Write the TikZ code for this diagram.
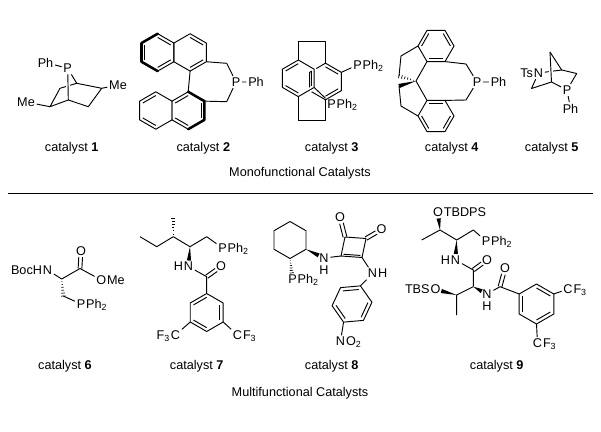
\documentclass[tikz,border=0pt]{standalone}
\usepackage{fontspec}
\setmainfont{Liberation Sans}
\usetikzlibrary{calc,positioning}

\tikzset{
  atom/.style={inner sep=1pt, font=\fontsize{9.5}{10}\selectfont},
  captext/.style={inner sep=1pt, font=\fontsize{9.5}{11}\selectfont},
  thickbond/.style={line width=1.9pt, line cap=round},
}
% ring corners: prefix, centre, start angle, side
\newcommand{\hexat}[4]{\foreach \k in {1,...,6}{\coordinate (#1\k) at ($(#2)+({#3+60*(\k-1)}:#4)$);}}
\newcommand{\ring}[1]{\draw (#11)--(#12)--(#13)--(#14)--(#15)--(#16)--cycle;}
\newcommand{\inb}[3]{\draw ($(#1)!0.2!(#3)$) -- ($(#2)!0.2!(#3)$);}
\newcommand{\dbl}[3]{%
  \draw[shorten >=#3] ($(#1)!1.4pt!90:(#2)$) -- ($(#2)!1.4pt!-90:(#1)$);
  \draw[shorten >=#3] ($(#1)!1.4pt!-90:(#2)$) -- ($(#2)!1.4pt!90:(#1)$);}
\newcommand{\wdg}[2]{\fill (#1) -- ($(#2)!1.6pt!90:(#1)$) -- ($(#2)!1.6pt!-90:(#1)$) -- cycle;}
\newcommand{\hsh}[2]{%
  \coordinate (hwa) at ($(#2)!1.6pt!90:(#1)$);
  \coordinate (hwb) at ($(#2)!1.6pt!-90:(#1)$);
  \foreach \t in {0.15,0.32,0.49,0.66,0.83,1}{\draw[line width=0.5pt] ($(#1)!\t!(hwa)$) -- ($(#1)!\t!(hwb)$);}}

\begin{document}
\begin{tikzpicture}[x=0.75pt, y=-0.75pt, line width=0.7pt, line join=round]
\useasboundingbox (0,0) rectangle (601,432);

% catalyst 1
\node[atom] (p1) at (67.7,68.3) {P};
\node[atom] (ph1) at (45.5,62.5) {Ph};
\node[atom] (me1a) at (118,85) {Me};
\node[atom] (me1b) at (26,102) {Me};
\coordinate (k1) at (76.7,83.3);
\coordinate (k4) at (68.3,100);
\coordinate (k2) at (101.7,88.3);
\coordinate (k3) at (88.3,106.7);
\coordinate (k6) at (60,88.3);
\coordinate (k5) at (50,106.7);
\draw (ph1) -- (p1);
\draw (k6) -- (k1);
\draw[white, line width=3pt] ($(p1)!0.45!(k4)$) -- ($(p1)!0.68!(k4)$);
\draw (p1) -- (k4);
\draw (p1) -- (k1) -- (k2) -- (k3) -- (k4) -- (k5) -- (k6);
\draw (k2) -- (me1a);
\draw (k5) -- (me1b);

% catalyst 2
\coordinate (n2a) at (157.7,52.4);
\coordinate (n2b) at (190.1,52.4);
\coordinate (n2c) at (155.8,110.5);
\coordinate (n2d) at (188.2,110.5);
\hexat{ba}{n2a}{-90}{18.7}
\hexat{bb}{n2b}{-90}{18.7}
\hexat{bc}{n2c}{-90}{18.7}
\hexat{bd}{n2d}{-90}{18.7}
\ring{ba} \ring{bb} \ring{bc} \ring{bd}
\draw[thickbond] (ba1) -- (ba6) -- (ba5) -- (ba4);
\draw[thickbond] (bd1) -- (bd2) -- (bd3) -- (bd4);
\inb{ba5}{ba6}{n2a} \inb{ba1}{ba2}{n2a} \inb{ba3}{ba4}{n2a}
\inb{bb1}{bb2}{n2b} \inb{bb3}{bb4}{n2b}
\inb{bc6}{bc1}{n2c} \inb{bc4}{bc5}{n2c}
\inb{bd6}{bd1}{n2d} \inb{bd2}{bd3}{n2d} \inb{bd4}{bd5}{n2d}
\draw (bb4) -- (bd1);
\coordinate (m2a) at (226.7,63.3);
\coordinate (m2b) at (226.7,101.7);
\node[atom] (p2) at (236,82) {P};
\node[atom] (ph2) at (256,82) {Ph};
\draw (bb3) -- (m2a) -- (p2) -- (ph2);
\draw (bd2) -- (m2b) -- (p2);

% catalyst 3
\coordinate (n3a) at (298.3,78.3);
\coordinate (n3b) at (325.5,81.5);
\hexat{fb}{n3b}{-90}{18.3}
\hexat{fa}{n3a}{-90}{18.3}
\ring{fb}
\inb{fb1}{fb2}{n3b} \inb{fb3}{fb4}{n3b} \inb{fb5}{fb6}{n3b}
\draw[preaction={draw=white, line width=3.5pt}] (fa1)--(fa2)--(fa3)--(fa4)--(fa5)--(fa6)--cycle;
\inb{fa1}{fa6}{n3a} \inb{fa5}{fa4}{n3a} \inb{fa2}{fa3}{n3a}
\coordinate (t3a) at (298.3,41.7);
\coordinate (t3b) at (325.5,41.7);
\coordinate (t3c) at (298.3,120);
\coordinate (t3d) at (325.5,120);
\draw (fa1) -- (t3a) -- (t3b) -- (fb1);
\draw (fa4) -- (t3c) -- (t3d) -- (fb4);
\node[atom] (p3a) at (357.5,65) {P};
\node[atom, base right=-2pt of p3a] (p3ar) {Ph\textsubscript{2}};
\node[atom] (p3b) at (331.5,104) {P};
\node[atom, base right=-2pt of p3b] (p3br) {Ph\textsubscript{2}};
\draw (fb2) -- (p3a);
\draw (fa3) -- (p3b);

% catalyst 4
\coordinate (n4a) at (436,46);
\coordinate (n4b) at (436,116);
\hexat{sa}{n4a}{180}{18}
\hexat{sb}{n4b}{180}{18}
\coordinate (sp4) at (416,81);
\coordinate (m4a) at (401,56);
\coordinate (m4b) at (399,76);
\coordinate (m4c) at (399,86);
\coordinate (m4d) at (401,106);
\coordinate (m4e) at (466,64);
\coordinate (m4f) at (466,100);
\node[atom] (p4) at (477,82) {P};
\node[atom] (ph4) at (498.5,82) {Ph};
\ring{sa} \ring{sb}
\inb{sa1}{sa2}{n4a} \inb{sa3}{sa4}{n4a} \inb{sa5}{sa6}{n4a}
\inb{sb1}{sb6}{n4b} \inb{sb4}{sb5}{n4b} \inb{sb2}{sb3}{n4b}
\draw (sa1) -- (m4a) -- (m4b);
\hsh{sp4}{m4b}
\draw (sa6) -- (sp4) -- (sb2);
\wdg{sp4}{m4c}
\draw (m4c) -- (m4d) -- (sb1);
\draw (sa5) -- (m4e) -- (p4) -- (ph4);
\draw (sb3) -- (m4f) -- (p4);

% catalyst 5
\coordinate (ap5) at (550,52);
\coordinate (bh5a) at (561.7,70);
\coordinate (bh5b) at (551.5,82);
\coordinate (cr5) at (576.7,73.5);
\coordinate (cl5) at (531.5,88.5);
\node[atom] (n5) at (538.5,73) {N};
\node[atom, base left=-2pt of n5] (ts5) {Ts};
\node[atom] (p5) at (567,90) {P};
\node[atom] (ph5) at (570.5,108.5) {Ph};
\draw (bh5a) -- (n5);
\draw[white, line width=3pt] ($(ap5)!0.55!(bh5b)$) -- ($(ap5)!0.76!(bh5b)$);
\draw (ap5) -- (bh5a) -- (cr5) -- (p5) -- (bh5b) -- (cl5) -- (n5);
\draw (ap5) -- (bh5b);
\draw (p5) -- (ph5);

% captions, top row
\node[captext] (cap1) at (71.7,148.3) {catalyst \textbf{1}};
\node[captext] (cap2) at (203.3,148.3) {catalyst \textbf{2}};
\node[captext] (cap3) at (331.7,148.3) {catalyst \textbf{3}};
\node[captext] (cap4) at (451.7,148.3) {catalyst \textbf{4}};
\node[captext] (cap5) at (551.7,148.3) {catalyst \textbf{5}};
\node[captext] (mono) at (300,173.3) {Monofunctional Catalysts};
\coordinate (sepa) at (8,193.5);
\coordinate (sepb) at (593,193.5);
\draw (sepa) -- (sepb);

% catalyst 6
\node[atom] (n6) at (47.5,270) {N};
\node[atom, base left=-2pt of n6] (boc6) {BocH};
\coordinate (ca6) at (61.7,279);
\coordinate (co6) at (80,268.5);
\node[atom] (o6) at (81,251) {O};
\node[atom] (o6b) at (101.3,280) {O};
\node[atom, base right=-2pt of o6b] (me6) {Me};
\coordinate (ch6) at (63.3,296);
\node[atom] (p6) at (81,304) {P};
\node[atom, base right=-2pt of p6] (p6r) {Ph\textsubscript{2}};
\draw (n6) -- (ca6) -- (co6) -- (o6b);
\dbl{co6}{o6}{4.5pt}
\hsh{ca6}{ch6}
\draw (ch6) -- (p6);

% catalyst 7
\coordinate (me7) at (173.3,218.3);
\coordinate (ch7) at (173.3,236.7);
\coordinate (et7a) at (140,236.7);
\coordinate (et7b) at (156.7,246.7);
\coordinate (cn7) at (190,246.7);
\coordinate (cp7) at (206.7,236.7);
\node[atom] (p7) at (222.5,248) {P};
\node[atom, base right=-2pt of p7] (p7r) {Ph\textsubscript{2}};
\node[atom] (n7) at (188.5,266.5) {N};
\node[atom, base left=-2pt of n7] (h7) {H};
\coordinate (co7) at (206.7,276.7);
\node[atom] (o7) at (221,266.5) {O};
\coordinate (n7w) at ($(n7)!4.5pt!(cn7)$);
\coordinate (n7r) at (206.7,312.5);
\hexat{ra}{n7r}{-90}{19}
\node[atom] (c7a) at (175.5,335) {C};
\node[atom, base left=-2pt of c7a] (f7a) {F\textsubscript{3}};
\node[atom] (c7b) at (237.5,335) {C};
\node[atom, base right=-2pt of c7b] (f7b) {F\textsubscript{3}};
\draw (et7a) -- (et7b) -- (ch7) -- (cn7) -- (cp7) -- (p7);
\hsh{ch7}{me7}
\wdg{cn7}{n7w}
\draw (n7) -- (co7) -- (ra1);
\dbl{co7}{o7}{4.5pt}
\ring{ra}
\inb{ra2}{ra3}{n7r} \inb{ra4}{ra5}{n7r} \inb{ra6}{ra1}{n7r}
\draw (ra5) -- (c7a);
\draw (ra3) -- (c7b);

% catalyst 8
\coordinate (n8h) at (290,240);
\hexat{cy}{n8h}{-90}{18.5}
\ring{cy}
\node[atom] (n8a) at (324,258) {N};
\node[atom, below=-0.5pt of n8a] (h8a) {H};
\coordinate (n8w) at ($(n8a)!4.5pt!(cy3)$);
\wdg{cy3}{n8w}
\node[atom] (p8) at (292.5,279.5) {P};
\node[atom, base right=-2pt of p8] (p8r) {Ph\textsubscript{2}};
\coordinate (p8w) at ($(p8)!5pt!(cy4)$);
\hsh{cy4}{p8w}
\coordinate (q1) at (345,237);
\coordinate (q2) at (366,238.5);
\coordinate (q3) at (362,257.5);
\coordinate (q4) at (341,256);
\coordinate (n8q) at (353.5,247.25);
\draw (n8a) -- (q4);
\draw (q1) -- (q2) -- (q3) -- (q4) -- cycle;
\inb{q3}{q4}{n8q}
\node[atom] (o8a) at (340,217.5) {O};
\node[atom] (o8b) at (381.5,229.5) {O};
\dbl{q1}{o8a}{4.5pt}
\dbl{q2}{o8b}{4.5pt}
\node[atom] (n8b) at (372.5,273.5) {N};
\node[atom, base right=-2pt of n8b] (h8b) {H};
\draw (q3) -- (n8b);
\coordinate (n8r) at (352,304);
\hexat{ar}{n8r}{-65}{20}
\draw (n8b) -- (ar1);
\ring{ar}
\inb{ar2}{ar3}{n8r} \inb{ar4}{ar5}{n8r} \inb{ar6}{ar1}{n8r}
\node[atom] (n8c) at (340.5,341.5) {N};
\node[atom, base right=-2pt of n8c] (o8c) {O\textsubscript{2}};
\draw (ar4) -- (n8c);

% catalyst 9
\node[atom] (o9a) at (438,212.5) {O};
\node[atom, base right=-2pt of o9a] (tb9) {TBDPS};
\coordinate (c9a) at (440,230);
\coordinate (m9a) at (421.7,240);
\coordinate (c9b) at (456.7,240);
\coordinate (cp9) at (473.3,230);
\node[atom] (p9) at (486,241) {P};
\node[atom, base right=-2pt of p9] (p9r) {Ph\textsubscript{2}};
\node[atom] (n9a) at (455.5,260) {N};
\node[atom, base left=-2pt of n9a] (h9a) {H};
\coordinate (co9a) at (473.3,270);
\node[atom] (o9b) at (487,260) {O};
\coordinate (c9c) at (473.3,286.7);
\node[atom] (n9b) at (487,294) {N};
\node[atom, below=-0.5pt of n9b] (h9b) {H};
\coordinate (c9d) at (456.7,295);
\node[atom] (o9c) at (435.5,289.5) {O};
\node[atom, base left=-2pt of o9c] (tbs9) {TBS};
\coordinate (m9b) at (456.7,315);
\coordinate (co9b) at (500,286.7);
\node[atom] (o9d) at (505,268.5) {O};
\coordinate (n9r) at (536.5,304);
\hexat{rb}{n9r}{-90}{20}
\node[atom] (c9e) at (568,289) {C};
\node[atom, base right=-2pt of c9e] (f9e) {F\textsubscript{3}};
\node[atom] (c9f) at (537.5,343.5) {C};
\node[atom, base right=-2pt of c9f] (f9f) {F\textsubscript{3}};
\coordinate (o9aw) at ($(o9a)!4.5pt!(c9a)$);
\wdg{c9a}{o9aw}
\draw (m9a) -- (c9a) -- (c9b) -- (cp9) -- (p9);
\coordinate (n9aw) at ($(n9a)!4.5pt!(c9b)$);
\wdg{c9b}{n9aw}
\draw (n9a) -- (co9a) -- (c9c);
\dbl{co9a}{o9b}{4.5pt}
\coordinate (n9bw) at ($(n9b)!4.5pt!(c9c)$);
\wdg{c9c}{n9bw}
\draw (c9c) -- (c9d) -- (m9b);
\coordinate (o9cw) at ($(o9c)!4.5pt!(c9d)$);
\wdg{c9d}{o9cw}
\draw (n9b) -- (co9b) -- (rb6);
\dbl{co9b}{o9d}{4.5pt}
\ring{rb}
\inb{rb5}{rb6}{n9r} \inb{rb1}{rb2}{n9r} \inb{rb3}{rb4}{n9r}
\draw (rb2) -- (c9e);
\draw (rb4) -- (c9f);

% captions, bottom row
\node[captext] (cap6) at (65,366.7) {catalyst \textbf{6}};
\node[captext] (cap7) at (196.7,366.7) {catalyst \textbf{7}};
\node[captext] (cap8) at (331.7,366.7) {catalyst \textbf{8}};
\node[captext] (cap9) at (496.7,366.7) {catalyst \textbf{9}};
\node[captext] (multi) at (300,393.3) {Multifunctional Catalysts};
\end{tikzpicture}
\end{document}
